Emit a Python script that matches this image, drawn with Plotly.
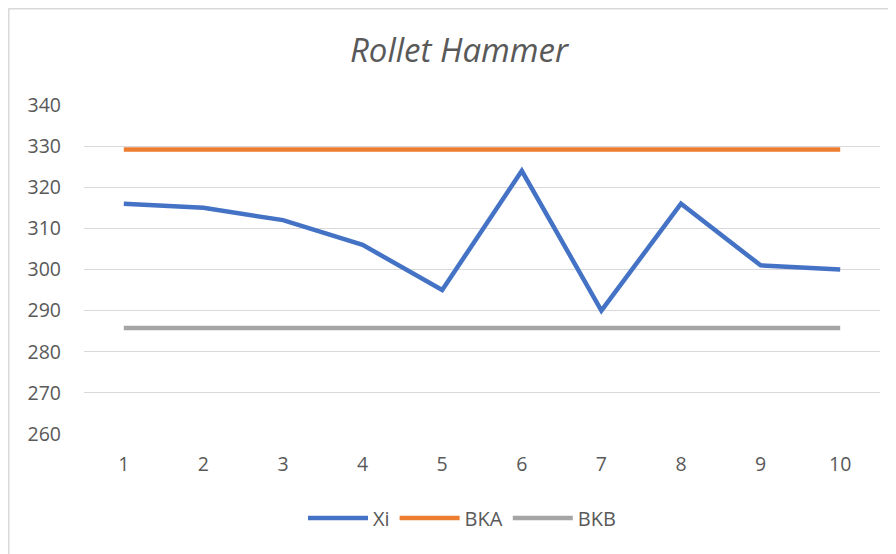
import plotly.graph_objects as go

# === Dati ===
x_vals = [1, 2, 3, 4, 5, 6, 7, 8, 9, 10]
xi = [316, 315, 312, 306, 295, 324, 290, 316, 301, 300]
bka = [329.2] * 10
bkb = [285.8] * 10

FONT = "Open Sans"
GREY_TXT = "#595959"

fig = go.Figure()
fig.add_trace(go.Scatter(x=x_vals, y=xi, name="Xi", mode="lines",
                         line=dict(color="#4472C4", width=4.5)))
fig.add_trace(go.Scatter(x=x_vals, y=bka, name="BKA", mode="lines",
                         line=dict(color="#ED7D31", width=4.5)))
fig.add_trace(go.Scatter(x=x_vals, y=bkb, name="BKB", mode="lines",
                         line=dict(color="#A5A5A5", width=4.5)))

# === Geometria (la pagina ha 8px di margine nel body) ===
OFF = 8
W, H = 896 - OFF, 554 - OFF
L, R, T, B = 84 - OFF, 16, 105 - OFF, 120
pw, ph = W - L - R, H - T - B
def px(v): return (v - OFF - L) / pw
def py(v): return 1 - (v - OFF - T) / ph

# === Bordo del grafico (solo alto e sinistra visibili) ===
fig.add_shape(type="line", xref="paper", yref="paper",
              x0=px(8.5), x1=px(900), y0=py(8.8), y1=py(8.8),
              line=dict(color="#D9D9D9", width=1.5))
fig.add_shape(type="line", xref="paper", yref="paper",
              x0=px(8.8), x1=px(8.8), y0=py(8.5), y1=py(560),
              line=dict(color="#D9D9D9", width=1.5))

fig.update_layout(
    width=W, height=H,
    title=dict(text="<i>Rollet Hammer</i>", x=(459 - OFF) / W, xanchor="center",
               y=1 - (50 - OFF) / H, yanchor="middle",
               font=dict(family=FONT, size=33, color=GREY_TXT)),
    plot_bgcolor="white",
    paper_bgcolor="white",
    margin=dict(l=L, r=R, t=T, b=B),
    showlegend=True,
    legend=dict(orientation="h", x=(462 - OFF - L) / pw, xref="paper", xanchor="center",
                y=py(518), yanchor="middle",
                font=dict(family=FONT, size=20, color=GREY_TXT),
                itemwidth=60),
    font=dict(family=FONT, color=GREY_TXT),
)
fig.update_xaxes(type="category", range=[-0.5, 9.5], showgrid=False,
                 showline=False, zeroline=False, ticks="",
                 tickfont=dict(family=FONT, size=19.5, color=GREY_TXT),
                 ticklabelstandoff=16)
fig.update_yaxes(range=[260, 340], dtick=10, showgrid=True,
                 gridcolor="#D9D9D9", gridwidth=1.3, zeroline=False,
                 showline=False, ticks="",
                 tickfont=dict(family=FONT, size=19.5, color=GREY_TXT),
                 ticklabelstandoff=22)

fig.write_html("out.html")
